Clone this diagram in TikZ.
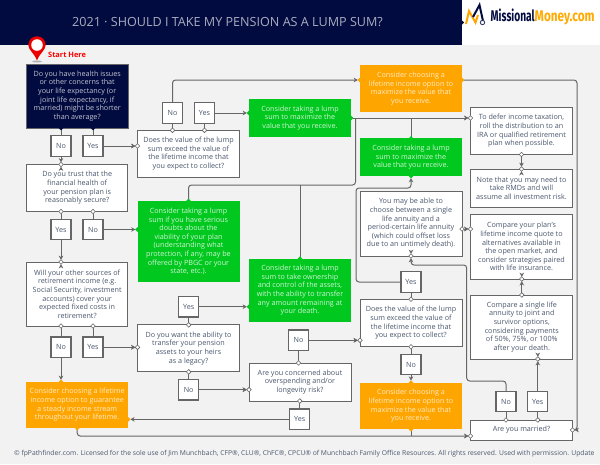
\documentclass[tikz,border=0pt]{standalone}
\usepackage{fontspec}
\setmainfont{Open Sans}
\newfontfamily\logofont{Fira Sans}
\usetikzlibrary{arrows.meta,calc}
\definecolor{navy}{HTML}{020B40}
\definecolor{gr}{HTML}{00C81E}
\definecolor{org}{HTML}{FFA500}
\definecolor{bg}{HTML}{F2F2F2}
\definecolor{ln}{HTML}{666666}
\definecolor{tx}{HTML}{4A586E}
\tikzset{
  basebox/.style={rectangle,inner sep=0pt,outer sep=0pt,align=center,font=\fontsize{7.2}{8.6}\selectfont},
  wbox/.style={basebox,fill=white,draw=ln,line width=1pt,text=tx},
  yn/.style={wbox,line width=1.2pt,minimum width=20pt,minimum height=20.5pt},
  nbox/.style={basebox,fill=navy,draw=ln,line width=.6pt,text=white!76!navy},
  gbox/.style={basebox,fill=gr,text=white!82!gr},
  obox/.style={basebox,fill=org,text=white!78!org},
  conn/.style={draw=ln,line width=1pt,rounded corners=3pt},
  arr/.style={conn,-{Stealth[length=4.2pt,width=4.6pt]},shorten >=2.2pt},
}
\newcommand{\prt}[2]{\filldraw[fill=#2,draw=ln,line width=.6pt] (#1) ++(-2.3,0) -- ++(2.3,2.3) -- ++(2.3,-2.3) -- ++(-2.3,-2.3) -- cycle;}
\newcommand{\prf}[2]{\fill[#2] (#1) ++(-2.3,0) -- ++(2.3,2.3) -- ++(2.3,-2.3) -- ++(-2.3,-2.3) -- cycle;}
\begin{document}
\begin{tikzpicture}[x=1pt,y=-1pt]
\useasboundingbox (0,0) rectangle (600,464);
\clip (0,0) rectangle (600,464);
\fill[bg] (0,0) rectangle (600,464);
\fill[navy] (0,0) rectangle (462,45);
\fill[white] (462,0) rectangle (600,45);
\node[text=white!66!navy,font=\fontsize{12.6}{14}\selectfont,inner sep=0pt] (title) at (227.5,22.5) {2021 · SHOULD I TAKE MY PENSION AS A LUMP SUM?};
% logo
\fill[navy] (462,20.5) -- (464,22.5) -- (462,24.5) -- cycle;
\draw[org,line width=2pt] (466,24) -- (469,11) -- (475.5,22.5) -- (478,15);
\draw[navy,line width=2pt] (473,17) -- (479.5,5) -- (483,21);
\draw[navy!80,line width=.9pt] (482.5,22.5) circle (2.2);
\node[inner sep=0pt,anchor=west] (logotext) at (490.5,16.5) {\logofont\bfseries\fontsize{15.5}{16}\selectfont\scalebox{.66}[1]{\textcolor{navy}{Missional}}\scalebox{.76}[1]{\textcolor{org!95!yellow}{Money.com}}};
% pin
\fill[black!30] (37,61.5) ellipse (5 and 1);
\fill[red!92!black] (37,60.5) .. controls (35,54) and (28.3,50) .. (28.3,45) arc[start angle=180,end angle=0,x radius=8.7,y radius=-8.7] .. controls (45.7,50) and (39,54) .. cycle;
\fill[white] (37,45) circle (5.8);
\node[text=red,font=\fontsize{7.4}{9}\selectfont\bfseries,anchor=west,inner sep=0pt] (start) at (48,55) {Start Here};
% left column
\node[nbox,minimum width=101.5pt,minimum height=64pt] (a1) at (77.2,96) {Do you have health issues\\or other concerns that\\your life expectancy (or\\joint life expectancy, if\\married) might be shorter\\than average?};
\node[yn] (no1) at (61,146) {No};
\node[yn] (yes1) at (93,146) {Yes};
\node[wbox,minimum width=101.5pt,minimum height=47pt] (q2) at (77.2,188) {Do you trust that the\\financial health of\\your pension plan is\\reasonably secure?};
\node[yn] (yes2) at (61,229.5) {Yes};
\node[yn] (no2) at (93,229.5) {No};
\node[wbox,minimum width=101.5pt,minimum height=64pt] (q3) at (77.2,294) {Will your other sources of\\retirement income (e.g.\\Social Security, investment\\accounts) cover your\\expected fixed costs in\\retirement?};
\node[yn] (no3) at (61,347.3) {No};
\node[yn] (yes3) at (93,347.3) {Yes};
\node[obox,minimum width=102pt,minimum height=46pt] (or1) at (77.2,405) {Consider choosing a lifetime\\income option to guarantee\\a steady income stream\\throughout your lifetime.};
% second column
\node[wbox,minimum width=102pt,minimum height=47pt] (q4) at (188.5,153.8) {Does the value of the lump\\sum exceed the value of\\the lifetime income that\\you expect to collect?};
\node[yn] (no4) at (172.5,113) {No};
\node[yn] (yes4) at (204.5,113) {Yes};
\node[gbox,minimum width=102pt,minimum height=81pt] (g2) at (188.5,241.5) {Consider taking a lump\\sum if you have serious\\doubts about the\\viability of your plan\\(understanding what\\protection, if any, may be\\offered by PBGC or your\\state, etc.).};
\node[wbox,minimum width=102pt,minimum height=47pt] (q5) at (188.5,348.4) {Do you want the ability to\\transfer your pension\\assets to your heirs\\as a legacy?};
\node[yn] (yes5) at (188.7,306.7) {Yes};
\node[yn] (no5) at (188.7,389.7) {No};
% third column
\node[gbox,minimum width=102pt,minimum height=38pt] (g1) at (300,118) {Consider taking a lump\\sum to maximize the\\value that you receive.};
\node[gbox,minimum width=102pt,minimum height=63.5pt] (g3) at (300,290.4) {Consider taking a lump\\sum to take ownership\\and control of the assets,\\with the ability to transfer\\any amount remaining at\\your death.};
\node[yn] (no6) at (298.5,340.3) {No};
\node[wbox,minimum width=102pt,minimum height=38pt] (q6) at (300,382) {Are you concerned about\\overspending and/or\\longevity risk?};
\node[yn] (yes6) at (299.8,419.3) {Yes};
% fourth column
\node[obox,minimum width=102pt,minimum height=47pt] (o1) at (411,88.5) {Consider choosing a\\lifetime income option to\\maximize the value that\\you receive.};
\node[gbox,minimum width=102pt,minimum height=37.5pt] (g4) at (411,157.2) {Consider taking a lump\\sum to maximize the\\value that you receive.};
\node[wbox,minimum width=102pt,minimum height=65pt] (q8) at (411,223.5) {You may be able to\\choose between a single\\life annuity and a\\period-certain life annuity\\(which could offset loss\\due to an untimely death).};
\node[yn] (yes7) at (411,282) {Yes};
\node[wbox,minimum width=102pt,minimum height=47.5pt] (q7) at (411,323) {Does the value of the lump\\sum exceed the value of\\the lifetime income that\\you expect to collect?};
\node[yn] (no7) at (411,364.5) {No};
\node[obox,minimum width=102pt,minimum height=46.5pt] (or3) at (411,406) {Consider choosing a\\lifetime income option to\\maximize the value that\\you receive.};
% fifth column
\node[wbox,minimum width=102pt,minimum height=47pt] (w1) at (521.5,131) {To defer income taxation,\\roll the distribution to an\\IRA or qualified retirement\\plan when possible.};
\node[wbox,minimum width=102pt,minimum height=38pt] (w2) at (521.5,188) {Note that you may need to\\take RMDs and will\\assume all investment risk.};
\node[wbox,minimum width=102pt,minimum height=64.5pt] (w3) at (521.5,246.8) {Compare your plan's\\lifetime income quote to\\alternatives available in\\the open market, and\\consider strategies paired\\with life insurance.};
\node[wbox,minimum width=102pt,minimum height=64pt] (w4) at (521.8,327) {Compare a single life\\annuity to joint and\\survivor options,\\considering payments\\of 50\%, 75\%, or 100\%\\after your death.};
\node[yn] (no9) at (506,401.5) {No};
\node[yn] (yes9) at (537.8,401.5) {Yes};
\node[wbox,minimum width=102pt,minimum height=20pt] (q9) at (521.5,430) {Are you married?};
% footer
\node[text=tx,font=\fontsize{6.75}{8}\selectfont,anchor=west,inner sep=0pt] (foot) at (14,453.3) {© fpPathfinder.com. Licensed for the sole use of Jim Munchbach, CFP®, CLU®, ChFC®, CPCU® of Munchbach Family Office Resources. All rights reserved. Used with permission. Update};
% connectors
\coordinate (o1r) at (577,80);
\coordinate (j1) at (355.5,118);
\coordinate (j2) at (355.5,185);
\coordinate (j3) at (356,188);
\coordinate (j4) at (466.7,265);
\coordinate (j5) at (466.7,381);
\coordinate (l1) at (77.2,436);
\draw[conn] (no1.north |- a1.south) -- (no1.north);
\draw[conn] (yes1.north |- a1.south) -- (yes1.north);
\draw[arr] (no1.south) -- (no1.south |- q2.north);
\draw[arr] (yes1.east) -- (yes1.east -| q4.west);
\draw[conn] (yes2.north |- q2.south) -- (yes2.north);
\draw[conn] (no2.north |- q2.south) -- (no2.north);
\draw[arr] (yes2.south) -- (yes2.south |- q3.north);
\draw[arr] (no2.east) -- (no2.east -| g2.west);
\draw[conn] (no3.north |- q3.south) -- (no3.north);
\draw[conn] (yes3.north |- q3.south) -- (yes3.north);
\draw[arr] (no3.south) -- (no3.south |- or1.north);
\draw[arr] (yes3.east) -- (yes3.east -| q5.west);
\draw[conn] (no4.south |- q4.north) -- (no4.south);
\draw[conn] (yes4.south |- q4.north) -- (yes4.south);
\draw[arr] (no4.north) |- (o1.west |- o1r);
\draw[arr] (yes4.east) -- (yes4.east -| g1.west);
\draw[conn] (o1.east |- o1r) -- (o1r) -- (o1r |- q9.east) -- ([xshift=2pt]q9.east);
\draw[arr] (g1.east) -- (w1.west |- g1.east);
\draw[conn] (g4.north) -- (g4.north |- j1);
\draw[conn] (g2.north) |- (j2) -- (j1);
\draw[conn] (g3.north) -- (g3.north |- j2);
\draw[conn] (yes5.south) -- (yes5.south |- q5.north);
\draw[conn] (no5.north) -- (no5.north |- q5.south);
\draw[arr] (yes5.east) -- (yes5.east -| g3.west);
\draw[arr] (no5.east) -- (no5.east -| q6.west);
\draw[conn] (no6.south) -- (no6.south |- q6.north);
\draw[conn] (yes6.north) -- (yes6.north |- q6.south);
\draw[arr] (no6.east) -- (no6.east -| q7.west);
\draw[arr] (yes6.west) -- (yes6.west -| or1.east);
\draw[conn] (yes7.south) -- (yes7.south |- q7.north);
\draw[conn] (no7.north) -- (no7.north |- q7.south);
\draw[arr] (no7.south) -- (no7.south |- or3.north);
\draw[arr] (yes7.west) -- (yes7.west -| j3) -- (j3) -| (g4.south);
\draw[arr] (q8.east |- 462,229) -- (w3.west |- 462,229);
\draw[arr] (w1.south) -- (w1.south |- w2.north);
\draw[arr] (w4.north) -- (w4.north |- w3.south);
\draw[conn] (no9.south) -- (no9.south |- q9.north);
\draw[conn] (yes9.south) -- (yes9.south |- q9.north);
\draw[arr] (yes9.north) -- (yes9.north |- w4.south);
\draw[arr] (no9.north) |- (j5) -- (j4) -| (q8.south);
\draw[arr] (or1.south -| l1) |- (q9.west |- l1);
\draw[conn] (or3.south) -- (or3.south |- l1);
% ports
\prf{no1.north |- a1.south}{navy}
\prf{yes1.north |- a1.south}{navy}
\prt{no1.south |- q2.north}{white}
\prt{yes1.east -| q4.west}{white}
\prt{yes2.north |- q2.south}{white}
\prt{no2.north |- q2.south}{white}
\prt{yes2.south |- q3.north}{white}
\prf{no2.east -| g2.west}{gr}
\prt{no3.north |- q3.south}{white}
\prt{yes3.north |- q3.south}{white}
\prf{no3.south |- or1.north}{org}
\prt{yes3.east -| q5.west}{white}
\prt{no4.south |- q4.north}{white}
\prt{yes4.south |- q4.north}{white}
\prf{o1.west |- o1r}{org}
\prf{yes4.east -| g1.west}{gr}
\prf{o1.east |- o1r}{org}
\prf{g1.east}{gr}
\prt{w1.west |- g1.east}{white}
\prf{g4.north}{gr}
\prf{g2.north}{gr}
\prf{g3.north}{gr}
\prt{yes5.south |- q5.north}{white}
\prt{no5.north |- q5.south}{white}
\prf{yes5.east -| g3.west}{gr}
\prt{no5.east -| q6.west}{white}
\prt{no6.south |- q6.north}{white}
\prt{yes6.north |- q6.south}{white}
\prt{no6.east -| q7.west}{white}
\prf{yes6.west -| or1.east}{org}
\prt{yes7.south |- q7.north}{white}
\prt{no7.north |- q7.south}{white}
\prf{no7.south |- or3.north}{org}
\prf{g4.south}{gr}
\prt{q8.east |- 462,229}{white}
\prt{w3.west |- 462,229}{white}
\prt{w1.south}{white}
\prt{w1.south |- w2.north}{white}
\prt{w4.north}{white}
\prt{w4.north |- w3.south}{white}
\prt{no9.south |- q9.north}{white}
\prt{yes9.south |- q9.north}{white}
\prt{yes9.north |- w4.south}{white}
\prt{q8.south}{white}
\prf{or1.south -| l1}{org}
\prf{or3.south}{org}
\prt{q9.west |- l1}{white}
\prt{q9.east}{white}
% arrow into married box from right
\draw[arr] (o1r |- q9.east) -- (q9.east);
% redraw tips over ports
\draw[arr] ([yshift=-4pt]no1.south |- q2.north) -- (no1.south |- q2.north);
\draw[arr] ([xshift=-4pt]yes1.east -| q4.west) -- (yes1.east -| q4.west);
\draw[arr] ([yshift=-4pt]yes2.south |- q3.north) -- (yes2.south |- q3.north);
\draw[arr] ([xshift=-4pt]yes3.east -| q5.west) -- (yes3.east -| q5.west);
\draw[arr] ([xshift=-4pt]w1.west |- g1.east) -- (w1.west |- g1.east);
\draw[arr] ([xshift=-4pt]no5.east -| q6.west) -- (no5.east -| q6.west);
\draw[arr] ([xshift=-4pt]no6.east -| q7.west) -- (no6.east -| q7.west);
\draw[arr] ([xshift=-4pt]w3.west |- 462,229) -- (w3.west |- 462,229);
\draw[arr] ([yshift=-4pt]w1.south |- w2.north) -- (w1.south |- w2.north);
\draw[arr] ([yshift=4pt]w4.north |- w3.south) -- (w4.north |- w3.south);
\draw[arr] ([yshift=4pt]yes9.north |- w4.south) -- (yes9.north |- w4.south);
\draw[arr] ([yshift=4pt]q8.south) -- (q8.south);
\draw[arr] ([xshift=-4pt]q9.west |- l1) -- (q9.west |- l1);
\end{tikzpicture}
\end{document}
